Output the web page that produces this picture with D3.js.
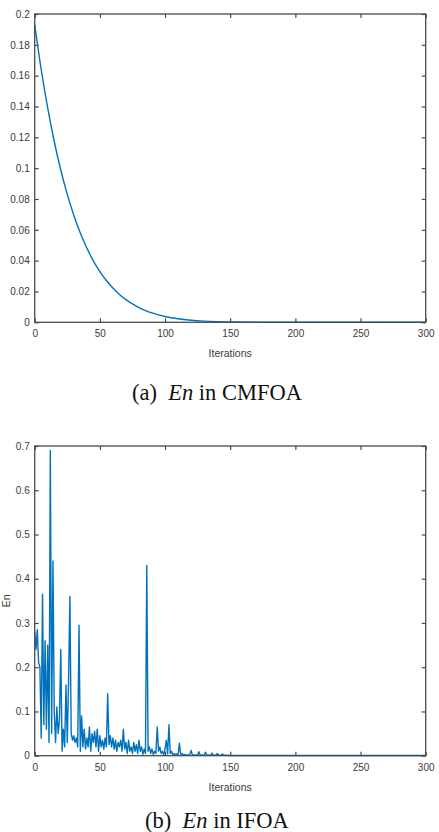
<!DOCTYPE html>
<html><head><meta charset="utf-8">
<script src="https://cdn.jsdelivr.net/npm/d3@7"></script>
<style>
html,body{margin:0;padding:0;background:#fff;}
svg{display:block;}
.tick text{font-family:"Liberation Sans",Arial,sans-serif;font-size:10px;fill:#3a3a3a;}
</style></head>
<body>
<svg id="c" width="439" height="832"></svg>
<script>
// ---- data ----
const iterA = [0,5,10,15,20,25,30,35,40,45,50,55,60,65,70,75,80,85,90,95,100,110,120,130,140,150,175,200,250,300];
const enA = [0.193,0.164,0.1389,0.1173,0.0988,0.083,0.0695,0.0579,0.0482,0.0399,0.0329,0.0271,0.0222,0.0181,0.0147,0.0119,0.00953,0.00762,0.00607,0.00481,0.00378,0.0023,0.00136,0.00078,0.00043,0.00023,0.0001,0.00005,0.00002,0.00001];

const iterB = [0,1,2,3,4,5,6,7,8,9,10,11,12,13,14,15,16,17,18,19,20,21,22,23,24,25,26,27,28,29,30,31,32,33,34,35,36,37,38,39,40,41,42,43,44,45,46,47,48,49,50,51,52,53,54,55,56,57,58,59,60,61,62,63,64,65,66,67,68,69,70,71,72,73,74,75,76,77,78,79,80,81,82,83,84,85,86,87,88,89,90,91,92,93,94,95,96,97,98,99,100,101,102,103,104,105,106,107,108,109,110,111,112,113,114,115,116,117,118,119,120,121,122,123,124,125,126,127,128,129,130,131,132,133,134,135,136,137,138,139,140,141,142,143,144,145,146,147,148,149,150,200,250,300];
const enB = [0.28,0.24,0.285,0.21,0.20,0.04,0.365,0.07,0.26,0.06,0.25,0.03,0.69,0.05,0.44,0.10,0.03,0.11,0.05,0.08,0.24,0.01,0.06,0.02,0.16,0.03,0.17,0.36,0.05,0.035,0.045,0.03,0.04,0.02,0.295,0.01,0.09,0.02,0.06,0.015,0.04,0.02,0.065,0.01,0.05,0.03,0.055,0.02,0.06,0.01,0.045,0.02,0.035,0.015,0.04,0.02,0.14,0.025,0.045,0.02,0.04,0.015,0.035,0.01,0.03,0.02,0.035,0.01,0.06,0.015,0.03,0.005,0.035,0.01,0.02,0.005,0.03,0.01,0.025,0.005,0.035,0.01,0.02,0.003,0.015,0.005,0.43,0.01,0.02,0.005,0.015,0.003,0.01,0.005,0.065,0.01,0.02,0.005,0.01,0.002,0.015,0.035,0.004,0.07,0.005,0.01,0.002,0.005,0.002,0.004,0.001,0.028,0.003,0.005,0.001,0.003,0.001,0.002,0.001,0.003,0.012,0.001,0.002,0.001,0.002,0.001,0.009,0.001,0.002,0.001,0.001,0.008,0.001,0.002,0.001,0.001,0.006,0.001,0.001,0.001,0.005,0.001,0.001,0.001,0.004,0.001,0.001,0.001,0.001,0.0005,0.0005,0.0005,0.0005,0.0005];

const xTicks = [0,50,100,150,200,250,300];
const yTicksA = [0,0.02,0.04,0.06,0.08,0.1,0.12,0.14,0.16,0.18,0.2];
const yTicksB = [0,0.1,0.2,0.3,0.4,0.5,0.6,0.7];

const svg = d3.select("#c");
const AX = "#4a4a4a", LINE = "#0072BD";

function panel(o){
  const g = svg.append("g");
  const x = d3.scaleLinear().domain([0,300]).range([o.left,o.right]);
  const y = d3.scaleLinear().domain([0,o.ymax]).range([o.bottom,o.top]);
  const fmt = d3.format("~g");
  const gb = g.append("g").attr("transform",`translate(0,${o.bottom})`)
    .call(d3.axisBottom(x).tickValues(xTicks).tickSizeInner(-4).tickSizeOuter(0).tickPadding(8).tickFormat(fmt));
  const gt = g.append("g").attr("transform",`translate(0,${o.top})`)
    .call(d3.axisTop(x).tickValues(xTicks).tickSizeInner(-4).tickSizeOuter(0).tickFormat(""));
  const gl = g.append("g").attr("transform",`translate(${o.left},0)`)
    .call(d3.axisLeft(y).tickValues(o.yTicks).tickSizeInner(-4).tickSizeOuter(0).tickPadding(5).tickFormat(fmt));
  const gr = g.append("g").attr("transform",`translate(${o.right},0)`)
    .call(d3.axisRight(y).tickValues(o.yTicks).tickSizeInner(-4).tickSizeOuter(0).tickFormat(""));
  [gb,gt,gl,gr].forEach(a=>{
    a.select(".domain").remove();
    a.selectAll(".tick line").attr("stroke",AX).attr("stroke-width",1.2);
  });
  const line = d3.line().x((d,i)=>x(o.xs[i])).y(d=>y(d)).curve(o.curve);
  g.append("path").datum(o.ys).attr("d",line).attr("fill","none")
    .attr("stroke",LINE).attr("stroke-width",1.4).attr("stroke-linejoin","round");
  g.append("rect").attr("x",o.left).attr("y",o.top).attr("width",o.right-o.left).attr("height",o.bottom-o.top)
    .attr("fill","none").attr("stroke",AX).attr("stroke-width",1.3);
  g.append("text").attr("x",(o.left+o.right)/2).attr("y",o.bottom+35).attr("text-anchor","middle")
    .style("font-family","Liberation Sans,Arial,sans-serif").style("font-size","10.5px").style("fill","#3a3a3a").text("Iterations");
  if(o.ylabel){
    g.append("text").attr("transform",`translate(10,${(o.top+o.bottom)/2}) rotate(-90)`).attr("text-anchor","middle")
      .style("font-family","Liberation Sans,Arial,sans-serif").style("font-size","10.5px").style("fill","#3a3a3a").text(o.ylabel);
  }
  const cap = svg.append("text").attr("x",217).attr("y",o.capY).attr("text-anchor","middle")
    .style("font-family","Liberation Serif,Times New Roman,serif").style("font-size","22.5px").style("fill","#111");
  cap.append("tspan").text(o.capPre + "\u00a0\u00a0");
  cap.append("tspan").style("font-style","italic").text("En");
  cap.append("tspan").text(" in " + o.capPost);
}

panel({left:34.7,right:425.7,top:14,bottom:322.3,ymax:0.2,yTicks:yTicksA,xs:iterA,ys:enA,curve:d3.curveMonotoneX,
  capY:400,capPre:"(a)",capPost:"CMFOA"});
panel({left:34.7,right:425.7,top:446,bottom:755.7,ymax:0.7,yTicks:yTicksB,xs:iterB,ys:enB,curve:d3.curveLinear,
  ylabel:"En",capY:828,capPre:"(b)",capPost:"IFOA"});
</script>
</body></html>
